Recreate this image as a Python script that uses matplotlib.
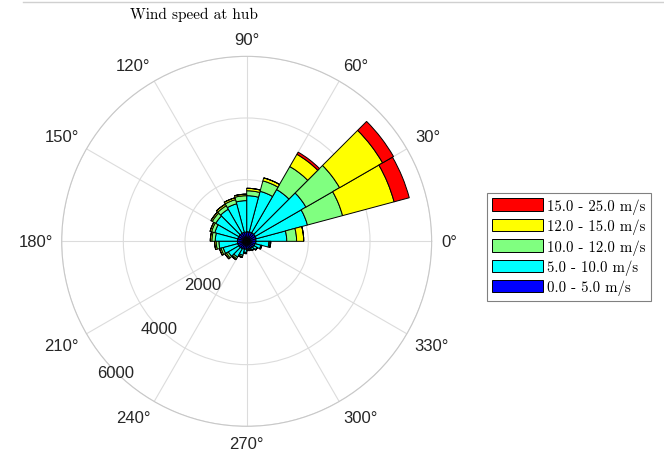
import matplotlib
matplotlib.use('Agg')
import matplotlib.pyplot as plt
import numpy as np
from matplotlib.patches import Patch
from matplotlib.lines import Line2D

# direction bins (15 deg wide, left edges in degrees)
bin_edges = list(range(0, 360, 15))

# counts per speed class for every direction bin
blue = [300, 320, 320, 320, 320, 310, 300, 300, 300, 300, 300, 300,
        300, 300, 290, 280, 270, 260, 250, 250, 260, 270, 280, 300]
cyan = [1000, 1720, 1900, 1620, 1360, 1170, 1020, 960, 900, 860, 770, 720,
        600, 490, 400, 310, 200, 100, 40, 50, 70, 120, 200, 420]
green = [320, 1180, 1260, 860, 350, 160, 160, 140, 130, 130, 110, 110,
         90, 70, 70, 60, 50, 30, 10, 10, 10, 10, 20, 40]
yellow = [230, 1730, 1610, 460, 100, 80, 50, 60, 60, 50, 50, 50,
          50, 50, 50, 40, 25, 10, 5, 5, 5, 5, 10, 20]
red = [0, 510, 410, 80, 0, 0, 0, 0, 0, 0, 0, 0,
       0, 0, 0, 0, 0, 0, 0, 0, 0, 0, 0, 0]

speed_labels = ['0.0 - 5.0 m/s', '5.0 - 10.0 m/s', '10.0 - 12.0 m/s',
                '12.0 - 15.0 m/s', '15.0 - 25.0 m/s']
colors = ['#0000ff', '#00ffff', '#80ff80', '#ffff00', '#ff0000']
r_ticks = [2000, 4000, 6000]
theta_ticks = list(range(0, 360, 30))

fig = plt.figure(figsize=(6.64, 4.56), dpi=100)
ax = fig.add_axes([0.0929, 0.0629, 0.5572, 0.8114], projection='polar')

theta = np.deg2rad(bin_edges)
width = np.deg2rad(15)
bottom = np.zeros(len(bin_edges))
for vals, c in zip([blue, cyan, green, yellow, red], colors):
    vals = np.array(vals, dtype=float)
    ax.bar(theta, vals, width=width, bottom=bottom, align='edge',
           color=c, edgecolor='black', linewidth=0.7, zorder=3)
    bottom = bottom + vals

rmax = 6000
ax.set_ylim(0, rmax)
ax.set_yticks(r_ticks)
ax.set_yticklabels([])
# radial labels sit right on the rings along 225 deg
for r in r_ticks:
    ax.text(np.deg2rad(225), r, str(r), fontsize=12, color='#262626',
            fontfamily='Liberation Sans', ha='center', va='center', zorder=5)

ax.set_thetagrids(theta_ticks, labels=[''] * len(theta_ticks))
# angle labels: anchor a corner of the label box just outside the circle
R_px = 185.0
gap = 10.0
for t in theta_ticks:
    s = '%d°' % t
    w = 8.0 * len(s)
    h = 14.0
    a = np.deg2rad(t)
    cx, cy = np.cos(a), np.sin(a)
    px = (R_px + gap) * cx + (np.sign(round(cx, 6)) * w / 2)
    py = (R_px + gap) * cy + (np.sign(round(cy, 6)) * h / 2)
    ax.text(np.arctan2(py, px), rmax * np.hypot(px, py) / R_px, s,
            fontsize=12, color='#262626', fontfamily='Liberation Sans',
            ha='center', va='center', clip_on=False)
ax.grid(True, color='#dcdcdc', linewidth=0.8)
ax.spines['polar'].set_color('#c8c8c8')
ax.set_axisbelow(True)

# title in computer modern like the original
fig.text(194 / 664, 1 - 15 / 456, 'Wind speed at hub', fontfamily='cmr10',
         fontsize=11, ha='center', va='center')

# thin grey line along the top
fig.add_artist(Line2D([23 / 664, 1.0], [1 - 2.5 / 456, 1 - 2.5 / 456],
                      color='#d0d0d0', linewidth=1.0))

handles = [Patch(facecolor=c, edgecolor='black', linewidth=0.7) for c in colors]
leg = fig.legend(handles[::-1], speed_labels[::-1], loc='upper left',
                 bbox_to_anchor=(487 / 664, 1 - 194 / 456), borderaxespad=0,
                 prop={'family': 'cmr10', 'size': 10.7},
                 handlelength=3.4, handleheight=0.9, handletextpad=0.3,
                 labelspacing=0.33, borderpad=0.35, fancybox=False,
                 framealpha=1, edgecolor='#808080')
leg.get_frame().set_linewidth(0.8)

fig.savefig('out.png', dpi=100)
